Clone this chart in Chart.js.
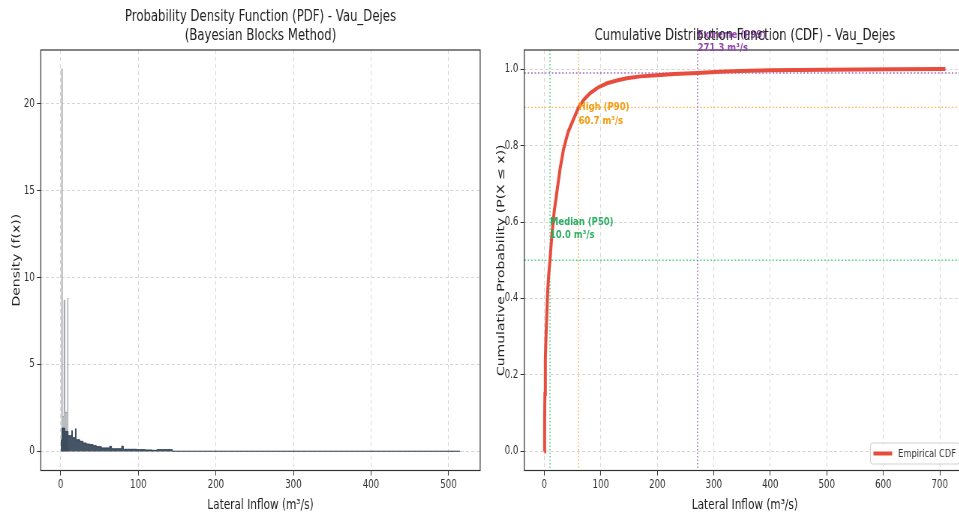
<!DOCTYPE html>
<html>
<head>
<meta charset="utf-8">
<script src="https://cdn.jsdelivr.net/npm/chart.js@4.4.0/dist/chart.umd.min.js"></script>
<style>
  html, body { margin: 0; padding: 0; background: #fff; overflow: hidden; width: 959px; height: 515px; }
  canvas { position: absolute; top: 0; }
</style>
</head>
<body>
<canvas id="pdfChart" width="645" height="515" style="left:0px;width:483.75px;height:515px"></canvas>
<canvas id="cdfChart" width="647" height="515" style="left:484px;width:485.25px;height:515px"></canvas>
<script>
// Bayesian-block histogram: wide blocks of the flow distribution
const pdfBlockEdges = [0, 1.7, 5.2, 9.5, 14.2, 15.0, 19.0, 19.8, 24.5, 28.8, 33.0, 37.5, 41.8, 46.0, 52.5, 63.0, 65.5, 78.5, 80.7, 98, 109, 118, 124, 144, 515];
const pdfBlockDensity = [0.65, 1.34, 1.15, 0.9, 1.19, 0.79, 1.3, 0.67, 0.58, 0.48, 0.42, 0.39, 0.33, 0.27, 0.2, 0.29, 0.15, 0.3, 0.12, 0.1, 0.08, 0.06, 0.1, 0.01];
// narrow high-density blocks near zero flow
const pdfPeakEdges = [0.4, 2.0, 4.2, 5.4, 8.9, 10.1];
const pdfPeakDensity = [22.0, 2.0, 8.7, 2.25, 8.8];

const pdfFlowTicks = [0, 100, 200, 300, 400, 500];
const pdfDensityTicks = [0, 5, 10, 15, 20];

// empirical CDF
const cdfFlow = [0, 0.5, 1, 1.8, 3, 4.7, 6, 7.7, 10, 13.6, 17.7, 22.4, 28, 34, 42, 52, 60.7, 70, 81, 95, 111, 130, 146, 170, 199, 230, 271.3, 310, 347, 400, 450, 500, 560, 620, 710];
const cdfProb = [0, 0.08, 0.15, 0.24, 0.3, 0.37, 0.42, 0.46, 0.5, 0.57, 0.63, 0.68, 0.74, 0.79, 0.835, 0.87, 0.9, 0.92, 0.937, 0.952, 0.963, 0.971, 0.976, 0.981, 0.984, 0.987, 0.99, 0.993, 0.995, 0.997, 0.998, 0.9985, 0.999, 0.9995, 1.0];

const cdfFlowTicks = [0, 100, 200, 300, 400, 500, 600, 700];
const cdfProbTicks = [0, 0.2, 0.4, 0.6, 0.8, 1.0];

// flow percentiles
const pctNames = ['Median', 'High', 'Extreme'];
const pctLevels = [50, 90, 99];
const pctFlow = [10.0, 60.7, 271.3];

const FONT = '"DejaVu Sans", sans-serif';
Chart.defaults.font.family = FONT;

function stepPoints(edges, dens) {
    return edges.map((e, i) => ({ x: e, y: dens[Math.min(i, dens.length - 1)] }));
}

const whiteBg = {
    id: 'whiteBg',
    beforeDraw(chart) {
        const ctx = chart.ctx;
        ctx.save();
        ctx.fillStyle = '#fff';
        ctx.fillRect(0, 0, chart.width, chart.height);
        ctx.restore();
    }
};

const frame = {
    id: 'frame',
    afterDatasetsDraw(chart) {
        const { ctx, chartArea: a } = chart;
        ctx.save();
        ctx.strokeStyle = '#333';
        ctx.lineWidth = 1.2;
        ctx.strokeRect(a.left, a.top, a.right - a.left, a.bottom - a.top);
        ctx.restore();
    }
};

const panelTitle = {
    id: 'panelTitle',
    afterDraw(chart, args, opts) {
        const { ctx, chartArea: a } = chart;
        ctx.save();
        ctx.font = `${opts.size}px ${FONT}`;
        ctx.fillStyle = '#222';
        ctx.textAlign = 'center';
        ctx.textBaseline = 'middle';
        const cx = (a.left + a.right) / 2;
        opts.lines.forEach((t, i) => ctx.fillText(t, cx, opts.top + i * opts.lineHeight));
        ctx.restore();
    }
};

const lineColors = ['rgba(46,204,113,0.85)', 'rgba(243,156,18,0.7)', 'rgba(142,68,173,0.8)'];
const textColors = ['#27ae60', '#f39c12', '#8e44ad'];

const percentiles = {
    id: 'percentiles',
    beforeDatasetsDraw(chart) {
        const { ctx, chartArea: a, scales: { x, y } } = chart;
        ctx.save();
        ctx.lineWidth = 1.4;
        pctFlow.forEach((f, i) => {
            const px = x.getPixelForValue(f);
            const py = y.getPixelForValue(pctLevels[i] / 100);
            ctx.strokeStyle = lineColors[i];
            ctx.setLineDash([1.5, 2]);
            ctx.beginPath();
            ctx.moveTo(px, a.top);
            ctx.lineTo(px, a.bottom);
            ctx.stroke();
            ctx.setLineDash([2, 2.6]);
            ctx.beginPath();
            ctx.moveTo(a.left, py);
            ctx.lineTo(a.right, py);
            ctx.stroke();
        });
        ctx.restore();
    },
    afterDraw(chart, args, opts) {
        const { ctx, scales: { x, y } } = chart;
        ctx.save();
        ctx.font = `bold 11.3px ${FONT}`;
        ctx.textAlign = 'left';
        ctx.textBaseline = 'bottom';
        pctFlow.forEach((f, i) => {
            const px = x.getPixelForValue(f);
            const py = y.getPixelForValue(pctLevels[i] / 100 + opts.shift[i]);
            ctx.fillStyle = textColors[i];
            ctx.fillText(`${f.toFixed(1)} m³/s`, px, py);
            ctx.fillText(`${pctNames[i]} (P${pctLevels[i]})`, px, py - 13.5);
        });
        ctx.restore();
    }
};

const cornerLegend = {
    id: 'cornerLegend',
    afterDraw(chart) {
        const { ctx, chartArea: a } = chart;
        const ds = chart.data.datasets[0];
        ctx.save();
        ctx.font = `11px ${FONT}`;
        const tw = ctx.measureText(ds.label).width;
        const w = 4 + 25 + 8 + tw + 5;
        const h = 21;
        const left = a.right - 7.7 - w;
        const top = a.bottom - 6.5 - h;
        ctx.fillStyle = 'rgba(255,255,255,0.85)';
        ctx.strokeStyle = '#d0d0d0';
        ctx.lineWidth = 1;
        ctx.beginPath();
        ctx.roundRect(left, top, w, h, 3);
        ctx.fill();
        ctx.stroke();
        ctx.strokeStyle = ds.borderColor;
        ctx.lineWidth = ds.borderWidth;
        ctx.beginPath();
        ctx.moveTo(left + 4, top + h / 2);
        ctx.lineTo(left + 29, top + h / 2);
        ctx.stroke();
        ctx.fillStyle = '#333';
        ctx.textBaseline = 'middle';
        ctx.fillText(ds.label, left + 37, top + h / 2 + 0.5);
        ctx.restore();
    }
};

const tickFont = { size: 11.5 };
const gridOpts = { color: '#d6d6d6', lineWidth: 1, tickLength: 5, tickColor: '#333', tickWidth: 1, tickBorderDash: [] };
const borderOpts = { display: false, dash: [4, 3] };

function fixedTicks(values) {
    return axis => { axis.ticks = values.map(v => ({ value: v })); };
}

// left panel: PDF
new Chart(document.getElementById('pdfChart'), {
    type: 'line',
    data: {
        datasets: [{
            label: 'Blocks',
            data: stepPoints(pdfBlockEdges, pdfBlockDensity),
            stepped: true,
            fill: 'origin',
            backgroundColor: 'rgba(44,62,80,0.88)',
            borderColor: 'rgba(44,62,80,0.95)',
            borderWidth: 1,
            pointRadius: 0
        }, {
            label: 'Peaks',
            data: stepPoints(pdfPeakEdges, pdfPeakDensity),
            stepped: true,
            fill: 'origin',
            backgroundColor: '#b9bdc1',
            borderColor: '#9ea4a9',
            borderWidth: 1,
            pointRadius: 0
        }]
    },
    options: {
        responsive: false,
        animation: false,
        layout: { padding: { left: 0, right: 5.1, top: 50, bottom: 0 } },
        plugins: {
            legend: { display: false },
            tooltip: { enabled: false },
            panelTitle: { lines: ['Probability Density Function (PDF) - Vau_Dejes', '(Bayesian Blocks Method)'], size: 15.6, top: 17, lineHeight: 19 }
        },
        scales: {
            x: {
                type: 'linear', min: -25.75, max: 540.75,
                afterBuildTicks: fixedTicks(pdfFlowTicks),
                afterFit: axis => { axis.height = 44.5; },
                grid: gridOpts, border: borderOpts,
                ticks: { font: tickFont, color: '#333', padding: 3, maxRotation: 0, autoSkip: false },
                title: { display: true, text: 'Lateral Inflow (m³/s)', font: { size: 14 }, color: '#222', padding: { top: 0, bottom: 1.6 } }
            },
            y: {
                min: -1.1, max: 23.1,
                afterBuildTicks: fixedTicks(pdfDensityTicks),
                afterFit: axis => { axis.width = 54.3; },
                grid: gridOpts, border: borderOpts,
                ticks: { font: tickFont, color: '#333', padding: 3 },
                title: { display: true, text: 'Density (f(x))', font: { size: 14 }, color: '#222', padding: { top: 13.6, bottom: 0 } }
            }
        }
    },
    plugins: [whiteBg, frame, panelTitle]
});

// right panel: CDF
new Chart(document.getElementById('cdfChart'), {
    type: 'line',
    data: {
        datasets: [{
            label: 'Empirical CDF',
            data: cdfFlow.map((f, i) => ({ x: f, y: cdfProb[i] })),
            borderColor: '#e74c3c',
            borderWidth: 4,
            pointRadius: 0,
            tension: 0,
            fill: false
        }]
    },
    options: {
        responsive: false,
        animation: false,
        layout: { padding: { left: 0, right: 4.7, top: 50, bottom: 0 } },
        plugins: {
            legend: { display: false },
            tooltip: { enabled: false },
            panelTitle: { lines: ['Cumulative Distribution Function (CDF) - Vau_Dejes'], size: 15.6, top: 36, lineHeight: 19 },
            percentiles: { shift: [0.05, -0.05, 0.05] }
        },
        scales: {
            x: {
                type: 'linear', min: -35.5, max: 745.5,
                afterBuildTicks: fixedTicks(cdfFlowTicks),
                afterFit: axis => { axis.height = 44.5; },
                grid: gridOpts, border: borderOpts,
                ticks: { font: tickFont, color: '#333', padding: 3, maxRotation: 0, autoSkip: false },
                title: { display: true, text: 'Lateral Inflow (m³/s)', font: { size: 14 }, color: '#222', padding: { top: 0, bottom: 1.6 } }
            },
            y: {
                min: -0.05, max: 1.05,
                afterBuildTicks: fixedTicks(cdfProbTicks),
                afterFit: axis => { axis.width = 53.7; },
                grid: gridOpts, border: borderOpts,
                ticks: { font: tickFont, color: '#333', padding: 3, callback: v => v.toFixed(1) },
                title: { display: true, text: 'Cumulative Probability (P(X ≤ x))', font: { size: 14 }, color: '#222', padding: { top: 14.6, bottom: 0 } }
            }
        }
    },
    plugins: [whiteBg, percentiles, frame, panelTitle, cornerLegend]
});
</script>
</body>
</html>
